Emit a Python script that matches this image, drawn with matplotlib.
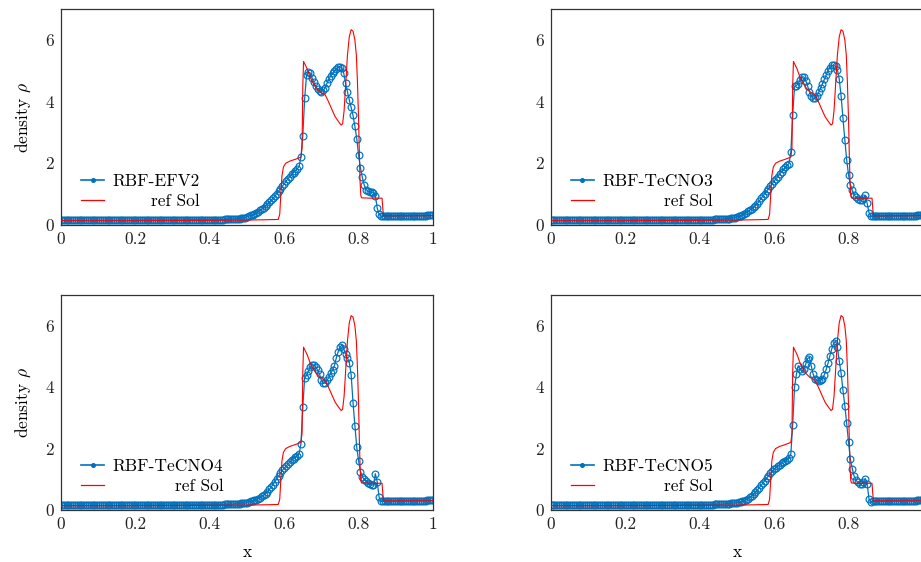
"""Blast-wave density at final time: four RBF schemes against the reference solution."""

import matplotlib

matplotlib.use("Agg")
import matplotlib.pyplot as plt
import numpy as np
from matplotlib.lines import Line2D

plt.rcParams.update(
    {
        "font.family": "serif",
        "font.serif": ["cmr10"],
        "mathtext.fontset": "cm",
        "axes.formatter.use_mathtext": True,
        "font.size": 12.5,
    }
)

BLUE = "#0072BD"
RED = "#FF0000"

# grid used by the numerical schemes (dx = 0.005)
x_grid = np.linspace(0.0, 1.0, 201)

# x = 0.000 ... 0.495, nearly identical for all schemes
rho_left = [
    0.15, 0.15, 0.15, 0.15, 0.15, 0.15, 0.15, 0.15, 0.15, 0.15,
    0.15, 0.15, 0.15, 0.15, 0.15, 0.15, 0.15, 0.15, 0.15, 0.15,
    0.15, 0.15, 0.15, 0.15, 0.15, 0.15, 0.15, 0.15, 0.15, 0.15,
    0.15, 0.15, 0.15, 0.15, 0.15, 0.15, 0.15, 0.15, 0.15, 0.15,
    0.16, 0.16, 0.16, 0.16, 0.16, 0.16, 0.16, 0.16, 0.16, 0.16,
    0.16, 0.16, 0.16, 0.16, 0.16, 0.16, 0.16, 0.16, 0.16, 0.16,
    0.16, 0.16, 0.16, 0.16, 0.16, 0.16, 0.16, 0.16, 0.16, 0.16,
    0.17, 0.17, 0.17, 0.17, 0.17, 0.17, 0.17, 0.17, 0.17, 0.17,
    0.17, 0.17, 0.17, 0.17, 0.17, 0.17, 0.17, 0.17, 0.18, 0.18,
    0.18, 0.19, 0.19, 0.20, 0.20, 0.21, 0.21, 0.22, 0.23, 0.23,
]

# x = 0.875 ... 1.000, post-shock state
rho_right = [
    0.28, 0.28, 0.28, 0.28, 0.28, 0.28, 0.28, 0.28, 0.29, 0.29,
    0.29, 0.29, 0.29, 0.29, 0.29, 0.29, 0.30, 0.30, 0.30, 0.30,
    0.30, 0.30, 0.31, 0.31, 0.31, 0.31,
]

# x = 0.500 ... 0.870 for each scheme
rho_efv2 = [
    0.27, 0.29, 0.31, 0.33, 0.36, 0.39, 0.43, 0.47, 0.51, 0.56,
    0.62, 0.68, 0.74, 0.80, 0.87, 0.94, 1.02, 1.10, 1.18, 1.26,
    1.33, 1.42, 1.50, 1.57, 1.64, 1.70, 1.76, 1.82, 1.90, 2.20,
    2.90, 4.10, 4.85, 4.97, 4.92, 4.76, 4.62, 4.49, 4.40, 4.35,
    4.32, 4.36, 4.45, 4.59, 4.72, 4.83, 4.92, 4.99, 5.06, 5.11,
    5.13, 5.08, 4.92, 4.59, 4.32, 4.05, 3.81, 3.55, 3.20, 2.80,
    2.27, 1.85, 1.55, 1.30, 1.15, 1.10, 1.08, 1.07, 1.05, 0.95,
    0.55, 0.35, 0.29, 0.28, 0.28,
]
rho_tecno3 = [
    0.26, 0.28, 0.30, 0.33, 0.36, 0.40, 0.44, 0.48, 0.52, 0.57,
    0.63, 0.69, 0.77, 0.86, 0.94, 1.02, 1.10, 1.18, 1.26, 1.34,
    1.42, 1.50, 1.57, 1.65, 1.73, 1.80, 1.87, 1.93, 1.99, 2.35,
    3.57, 4.49, 4.52, 4.58, 4.70, 4.80, 4.80, 4.68, 4.50, 4.32,
    4.18, 4.10, 4.10, 4.18, 4.30, 4.44, 4.58, 4.72, 4.86, 5.00,
    5.10, 5.17, 5.18, 5.14, 5.03, 4.73, 4.18, 3.46, 2.76, 2.11,
    1.62, 1.30, 1.12, 0.98, 0.90, 0.85, 0.82, 0.80, 0.87, 0.96,
    0.70, 0.40, 0.28, 0.28, 0.28,
]
rho_tecno4 = [
    0.24, 0.26, 0.28, 0.30, 0.32, 0.34, 0.37, 0.40, 0.44, 0.48,
    0.53, 0.60, 0.67, 0.75, 0.83, 0.92, 1.01, 1.10, 1.20, 1.29,
    1.36, 1.43, 1.50, 1.56, 1.62, 1.67, 1.71, 1.76, 1.82, 2.15,
    3.35, 4.30, 4.38, 4.52, 4.65, 4.72, 4.72, 4.65, 4.55, 4.42,
    4.22, 4.12, 4.14, 4.22, 4.32, 4.45, 4.56, 4.70, 4.95, 5.15,
    5.30, 5.38, 5.25, 5.08, 4.95, 4.80, 4.40, 3.50, 2.75, 2.05,
    1.60, 1.25, 1.08, 1.00, 0.95, 0.88, 0.84, 0.81, 0.82, 1.18,
    0.92, 0.42, 0.28, 0.28, 0.28,
]
rho_tecno5 = [
    0.24, 0.25, 0.26, 0.28, 0.30, 0.33, 0.37, 0.41, 0.46, 0.51,
    0.58, 0.65, 0.72, 0.80, 0.88, 0.96, 1.04, 1.12, 1.19, 1.26,
    1.32, 1.38, 1.43, 1.48, 1.53, 1.57, 1.61, 1.64, 1.68, 1.82,
    2.78, 4.00, 4.42, 4.70, 4.58, 4.52, 4.60, 4.75, 4.93, 4.97,
    4.68, 4.42, 4.28, 4.22, 4.20, 4.23, 4.28, 4.40, 4.58, 4.78,
    5.03, 5.25, 5.43, 5.50, 5.30, 4.85, 4.45, 3.90, 3.40, 2.82,
    2.20, 1.65, 1.35, 1.10, 0.97, 0.90, 0.85, 0.84, 0.92, 1.02,
    0.85, 0.35, 0.27, 0.28, 0.28,
]

# reference solution (fine grid), vertices
ref_x = [
    0.0, 0.2, 0.4, 0.5, 0.55, 0.584, 0.588, 0.591, 0.594, 0.598,
    0.604, 0.615, 0.630, 0.645, 0.648, 0.650, 0.652, 0.656, 0.662, 0.669,
    0.678, 0.687, 0.696, 0.710, 0.719, 0.728, 0.737, 0.746, 0.753, 0.757,
    0.761, 0.765, 0.770, 0.775, 0.780, 0.785, 0.790, 0.794, 0.797, 0.800,
    0.802, 0.804, 0.806, 0.808, 0.830, 0.863, 0.865, 0.867, 0.9, 1.0,
]
ref_y = [
    0.14, 0.14, 0.15, 0.16, 0.17, 0.18, 0.35, 1.0, 1.6, 1.88,
    2.0, 2.07, 2.13, 2.2, 2.5, 4.5, 5.3, 5.2, 5.05, 4.81,
    4.59, 4.43, 4.32, 4.22, 4.0, 3.75, 3.51, 3.35, 3.24, 3.28,
    3.7, 4.5, 5.5, 6.1, 6.33, 6.28, 6.0, 5.5, 4.6, 3.4,
    2.3, 1.4, 0.95, 0.88, 0.87, 0.87, 0.55, 0.3, 0.3, 0.3,
]

x_ticks = [0, 0.2, 0.4, 0.6, 0.8, 1.0]
x_ticklabels = ["0", "0.2", "0.4", "0.6", "0.8", "1"]
y_ticks = [0, 2, 4, 6]
y_ticklabels = ["0", "2", "4", "6"]

schemes = ["RBF-EFV2", "RBF-TeCNO3", "RBF-TeCNO4", "RBF-TeCNO5"]
profiles = [rho_efv2, rho_tecno3, rho_tecno4, rho_tecno5]

W, H = 921, 562
# axes boxes in pixels: left, top, width, height (right column runs past the edge)
boxes = [(61, 9, 372, 216), (550.7, 9, 372.3, 216), (61, 295, 372, 215), (550.7, 295, 372.3, 215)]


def draw_panel(fig, box, name, mid, show_x, show_y, clipped):
    left, top, w, h = box
    ax = fig.add_axes([left / W, 1 - (top + h) / H, w / W, h / H])
    rho = np.array(rho_left + mid + rho_right)

    ax.plot(x_grid, rho, color=BLUE, lw=0.9, marker="o", ms=4.9,
            mfc="none", mec=BLUE, mew=0.85, zorder=2)
    ax.plot(ref_x, ref_y, color=RED, lw=0.8, zorder=3)

    ax.set_xlim(0, 1)
    ax.set_ylim(0, 7)
    ax.set_xticks(x_ticks)
    # the "1" label of the right column falls outside the picture
    ax.set_xticklabels(x_ticklabels[:-1] + [""] if clipped else x_ticklabels)
    ax.set_yticks(y_ticks)
    ax.set_yticklabels(y_ticklabels)
    ax.tick_params(which="major", length=0, pad=5, colors="#222222")
    ax.set_xticks([0.6, 0.8], minor=True)
    ax.set_yticks([4, 6], minor=True)
    ax.tick_params(which="minor", direction="in", length=7, width=0.8,
                   color="#a0a0a0", top=True, bottom=True, left=False, right=True)
    for s in ax.spines.values():
        s.set_color("#333333")
        s.set_linewidth(0.9)

    if show_x:
        ax.set_xlabel("x", labelpad=9)
    if show_y:
        ax.set_ylabel(r"density $\rho$", labelpad=9)

    handles = [
        Line2D([], [], color=BLUE, lw=1.2, marker="o", ms=2.6, mfc=BLUE, mec=BLUE),
        Line2D([], [], color=RED, lw=0.9),
    ]
    leg = ax.legend(handles, [name, "ref Sol"], loc="lower left",
                    bbox_to_anchor=(0.055, 0.075), frameon=False, borderpad=0,
                    borderaxespad=0, handlelength=1.3, handletextpad=0.5,
                    labelspacing=0.25)
    # right-align the legend texts
    renderer = fig.canvas.get_renderer()
    widths = [t.get_window_extent(renderer).width for t in leg.get_texts()]
    for t, wt in zip(leg.get_texts(), widths):
        t.set_position((max(widths) - wt, 0))
    return ax


fig = plt.figure(figsize=(W / 100, H / 100), dpi=100)
for i, (name, mid) in enumerate(zip(schemes, profiles)):
    draw_panel(fig, boxes[i], name, mid, show_x=i >= 2, show_y=i % 2 == 0,
               clipped=i % 2 == 1)

fig.savefig("out.png", dpi=100)
